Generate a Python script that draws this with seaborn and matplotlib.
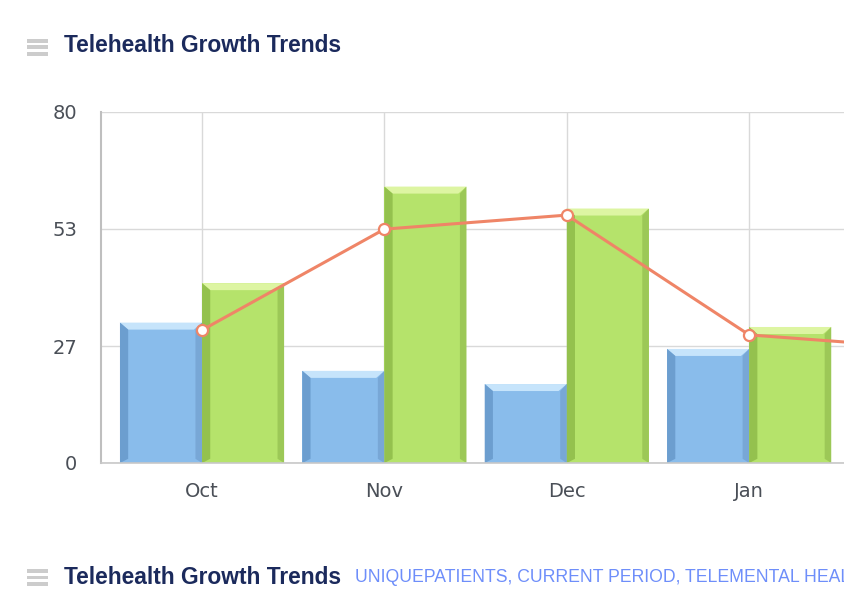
import numpy as np
import pandas as pd
import matplotlib
matplotlib.use("Agg")
import matplotlib.pyplot as plt
from matplotlib.patches import Polygon, Rectangle
import seaborn as sns

# chart data
months = ["Oct", "Nov", "Dec", "Jan", "Feb"]
blue_vals = [32, 21, 18, 26, np.nan]
green_vals = [41, 63, 58, 31, np.nan]
line_vals = [30.3, 53.3, 56.5, 29.2, 26.1]
series_names = ["Prior", "Current"]
ytick_vals = [0, 80 / 3, 160 / 3, 80]
ytick_labels = ["0", "27", "53", "80"]

title = "Telehealth Growth Trends"
subtitle = "UNIQUEPATIENTS, CURRENT PERIOD, TELEMENTAL HEALTH"

blue = "#89bceb"
green = "#b5e36b"
line_col = "#EF8567"
grid_col = "#D9D9D9"
title_col = "#1B2A5C"

sns.set_style("white")
plt.rcParams["font.family"] = ["DejaVu Sans"]

bars = pd.DataFrame({
    "month": months * 2,
    "value": blue_vals + green_vals,
    "series": [series_names[0]] * len(months) + [series_names[1]] * len(months),
})

fig = plt.figure(figsize=(8.44, 6.04), dpi=100)
ax = fig.add_axes([101 / 844, (604 - 463) / 604, (844 - 101) / 844, 351 / 604])

sns.barplot(data=bars, x="month", y="value", hue="series", order=months,
            palette=[blue, green], width=0.9, gap=0, saturation=1,
            legend=False, ax=ax, zorder=2, linewidth=0)

# bevel shading on each bar
shade = {blue: ("#C6E4FB", "#6C9ECF", "#78A7D6"),
         green: ("#DDF5A2", "#94C14E", "#9CC857")}
dx, dy = 0.045, 1.6
for p in list(ax.patches):
    h = p.get_height()
    if not np.isfinite(h) or h <= 0:
        continue
    x0 = p.get_x()
    x1 = x0 + p.get_width()
    fc = matplotlib.colors.to_hex(p.get_facecolor()).lower()
    top_c, left_c, right_c = shade.get(fc, shade[blue])
    ax.add_patch(Polygon([(x0, h), (x1, h), (x1 - dx, h - dy), (x0 + dx, h - dy)],
                         closed=True, fc=top_c, lw=0, zorder=2.1))
    ax.add_patch(Polygon([(x0, h), (x0 + dx, h - dy), (x0 + dx, dy * 0.6), (x0, 0)],
                         closed=True, fc=left_c, lw=0, zorder=2.1))
    ax.add_patch(Polygon([(x1, h), (x1 - dx * 0.8, h - dy), (x1 - dx * 0.8, dy * 0.6), (x1, 0)],
                         closed=True, fc=right_c, lw=0, zorder=2.1))

sns.pointplot(x=months, y=line_vals, order=months, color=line_col,
              markers="o", linewidth=2.2, markersize=8, ax=ax)
for ln in ax.lines:
    ln.set_markerfacecolor("white")
    ln.set_markeredgecolor(line_col)
    ln.set_markeredgewidth(1.6)
    ln.set_zorder(5)
    ln.set_clip_on(True)

ax.set_yticks(ytick_vals)
ax.set_yticklabels(ytick_labels)
ax.set_xticks(range(len(months)))
ax.set_xticklabels(months)
ax.set_xlim(-0.554, 3.52)
ax.set_ylim(0, 80)
ax.set_xlabel("")
ax.set_ylabel("")

ax.grid(True, color=grid_col, linewidth=1.0, zorder=0)
ax.set_axisbelow(True)
for s in ["top", "right"]:
    ax.spines[s].set_visible(False)
ax.spines["left"].set_color("#BFBFBF")
ax.spines["left"].set_linewidth(1.5)
ax.spines["bottom"].set_color("#C8C8C8")
ax.spines["bottom"].set_linewidth(1.2)
ax.tick_params(axis="y", length=9, width=1.2, color="#C8C8C8", pad=8,
               labelsize=14, labelcolor="#4A4F57")
ax.tick_params(axis="x", length=6, width=1.2, color="#BFBFBF", pad=8,
               labelsize=14, labelcolor="#4A4F57")

# header / footer with menu icons
for ytop in (38, 568):
    for k in range(3):
        fig.add_artist(Rectangle((27 / 844, 1 - (ytop + 1 + k * 6.5 + 3.8) / 604), 21 / 844, 3.8 / 604,
                                 transform=fig.transFigure, fc="#CCCCCC", lw=0))

fig.text(64 / 844, 1 - 46 / 604, title, fontsize=16.4, fontweight="bold",
         color=title_col, va="center", ha="left", family=["Liberation Sans", "DejaVu Sans"])
fig.text(64 / 844, 1 - 577 / 604, title, fontsize=16.4, fontweight="bold",
         color=title_col, va="center", ha="left", family=["Liberation Sans", "DejaVu Sans"])
fig.text(355 / 844, 1 - 577 / 604, subtitle, fontsize=12.7, color="#6E8EFA",
         va="center", ha="left", family=["Liberation Sans", "DejaVu Sans"])

fig.savefig("out.png", dpi=100)
